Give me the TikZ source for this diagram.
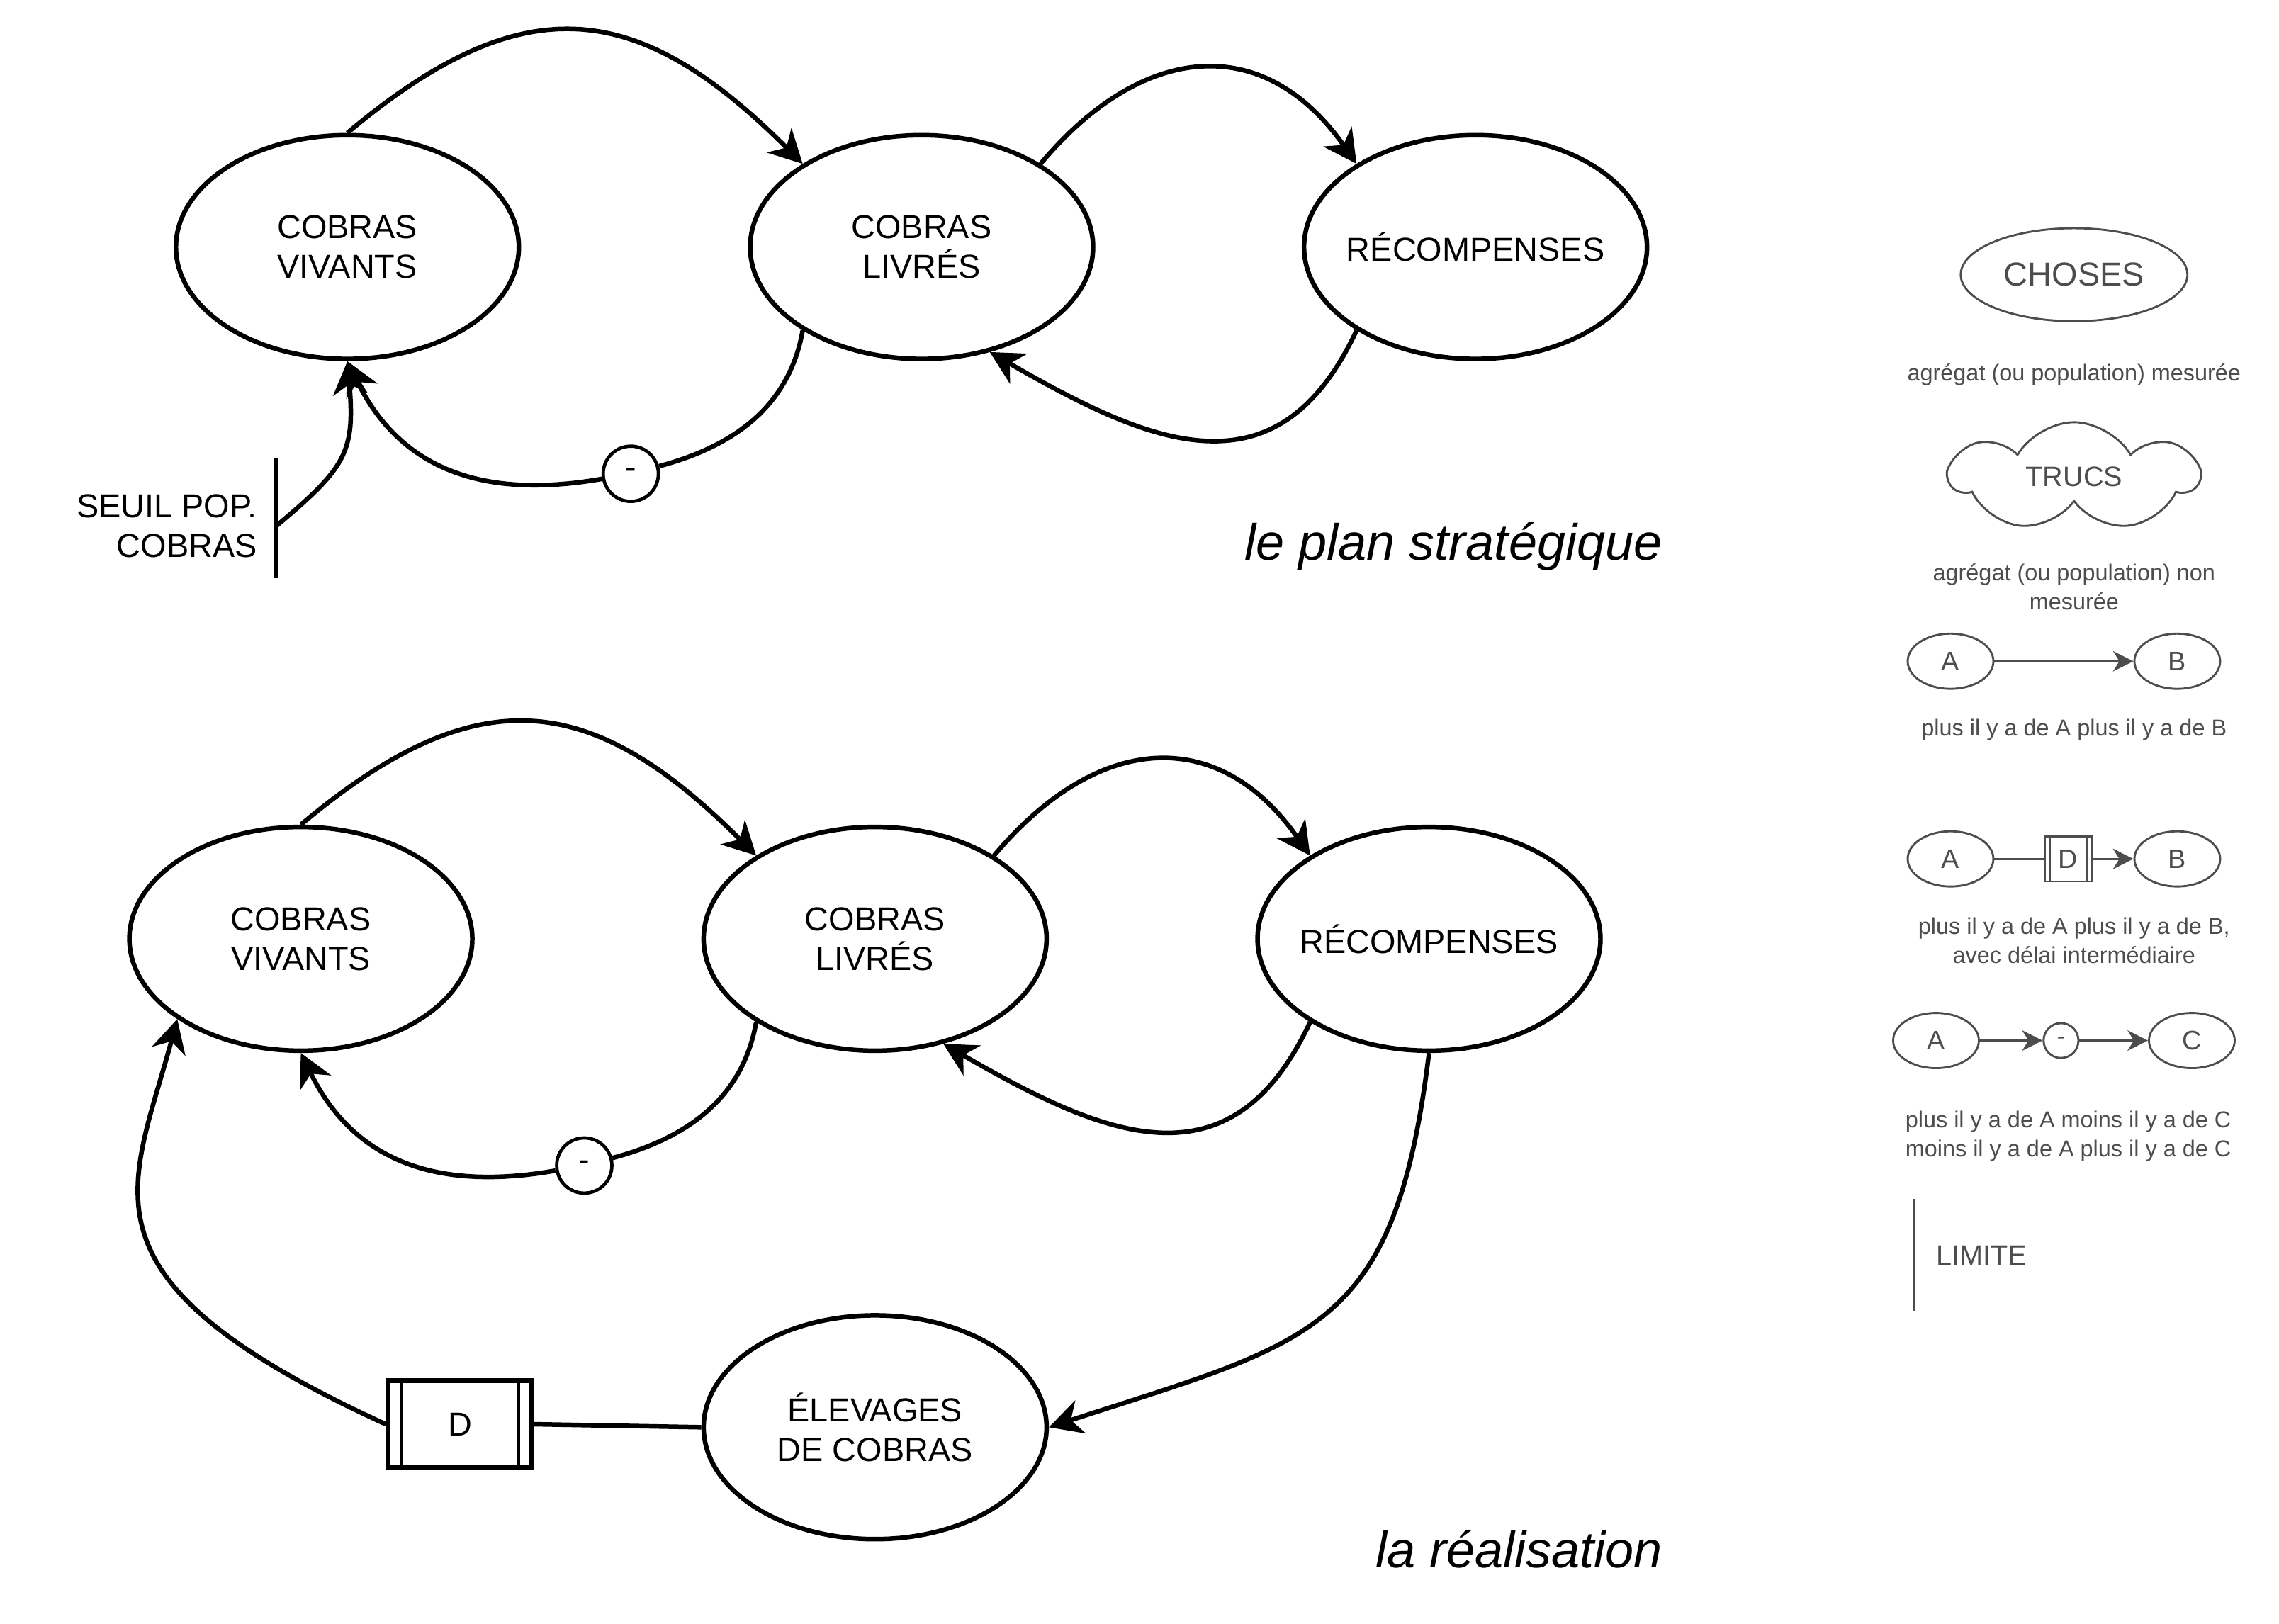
\documentclass[tikz,border=0pt]{standalone}
\usepackage{fontspec}
\setmainfont{Liberation Sans}
\usetikzlibrary{positioning, shapes.geometric, shapes.symbols, arrows.meta}
\definecolor{lggray}{HTML}{4D4D4D}
\tikzset{%
  stock/.style    = {draw, ellipse, line width=1.8pt, minimum width=4.72cm,
    minimum height=3.08cm, inner xsep=-0.25cm, inner ysep=0pt, align=center,
    font=\fontsize{13}{15.6}\selectfont},
  minus/.style    = {draw, circle, line width=1.3pt, minimum size=0.76cm,
    inner sep=0pt, font=\fontsize{13}{15.6}\selectfont},
  delaybox/.style = {draw, rectangle, line width=1.8pt, minimum width=1.98cm,
    minimum height=1.2cm, font=\fontsize{13}{15.6}\selectfont},
  lgstock/.style  = {draw=lggray, text=lggray, ellipse, line width=0.8pt,
    minimum width=1.18cm, minimum height=0.76cm, inner sep=0pt,
    font=\fontsize{10.5}{12.6}\selectfont},
  lgtext/.style   = {text=lggray, align=center, font=\fontsize{9}{11.4}\selectfont},
  title/.style    = {font=\fontsize{20}{24}\selectfont\itshape}
}
\tikzstyle{arrow} = [draw, line width=1.8pt, -{Stealth[length=13pt, width=13.5pt, inset=4pt]}]
\tikzstyle{line} = [draw, line width=1.8pt]
\tikzstyle{lgarrow} = [draw=lggray, line width=0.8pt, -{Stealth[length=8pt, width=8pt, inset=2.5pt]}]
\tikzstyle{lgline} = [draw=lggray, line width=0.8pt]

\begin{document}
\begin{tikzpicture}[x=0.02cm, y=0.02cm]
\useasboundingbox (0,0) rectangle (1568,-1117);

% le plan strategique
\node [stock] (viv1) at (239,-170) {COBRAS\\VIVANTS};
\node [stock, right=3.12cm of viv1] (liv1) {COBRAS\\LIVRÉS};
\node [stock, right=2.84cm of liv1] (rec1) {RÉCOMPENSES};
\node [minus] (neg1) at (434,-326) {-};

\coordinate (seuiltop) at (190,-315);
\coordinate (seuilbot) at (190,-398);
\coordinate (seuilmid) at (190,-362);
\node [anchor=east, align=right, font=\fontsize{13}{15.6}\selectfont] (seuil) at (183,-362) {SEUIL POP.\\COBRAS};

\draw [arrow] (viv1.north) to[out=40, in=135, looseness=1.3] (liv1.145);
\draw [arrow] (liv1.35) to[out=50, in=125, looseness=1.3] (rec1.145);
\draw [arrow] (rec1.215) to[out=-115, in=-30, looseness=1.3] (liv1.-57);
\draw [line] (liv1.215) to[out=-100, in=15] (neg1);
\draw [arrow] (neg1) to[out=190, in=-64, looseness=1.1] (viv1.south);
\draw [line] (seuiltop) -- (seuilbot);
\draw [arrow] (seuilmid) to[out=40, in=-85, looseness=1.3] (viv1.south);

\node [title] (plan) at (1000,-376) {le plan stratégique};

% la realisation
\node [stock] (viv2) at (207,-646) {COBRAS\\VIVANTS};
\node [stock, right=3.12cm of viv2] (liv2) {COBRAS\\LIVRÉS};
\node [stock, right=2.84cm of liv2] (rec2) {RÉCOMPENSES};
\node [stock, below=3.58cm of liv2] (elev) {ÉLEVAGES\\DE COBRAS};
\node [minus] (neg2) at (402,-802) {-};
\node [delaybox] (dbox) at (316.5,-980) {D};
\draw [line width=1.2pt] ([xshift=0.22cm]dbox.north west) -- ([xshift=0.22cm]dbox.south west);
\draw [line width=1.2pt] ([xshift=-0.22cm]dbox.north east) -- ([xshift=-0.22cm]dbox.south east);

\draw [arrow] (viv2.north) to[out=40, in=135, looseness=1.3] (liv2.145);
\draw [arrow] (liv2.35) to[out=50, in=125, looseness=1.3] (rec2.145);
\draw [arrow] (rec2.215) to[out=-115, in=-30, looseness=1.3] (liv2.-57);
\draw [line] (liv2.215) to[out=-100, in=15] (neg2);
\draw [arrow] (neg2) to[out=190, in=-64, looseness=1.1] (viv2.south);
\draw [arrow] (rec2.south) to[out=-97, in=18, looseness=1.35] (elev.east);
\draw [line] (elev.west) -- (dbox.east);
\draw [arrow] (dbox.west) .. controls (47,-880) and (90,-820) .. (viv2.213);

\node [title] (real) at (1045,-1066) {la réalisation};

% legende
\node [lgstock, minimum width=3.12cm, minimum height=1.28cm,
  font=\fontsize{13}{15.6}\selectfont] (choses) at (1427,-189) {CHOSES};
\node [lgtext] (chosestxt) at (1427,-258) {agrégat (ou population) mesurée};
\node [cloud, draw=lggray, text=lggray, line width=0.8pt, cloud puffs=7,
  cloud puff arc=120, cloud ignores aspect, minimum width=3.4cm, minimum height=1.5cm,
  inner sep=0pt, font=\fontsize{11}{13.2}\selectfont] (trucs) at (1427,-328) {TRUCS};
\node [lgtext] (trucstxt) at (1427,-404) {agrégat (ou population) non\\mesurée};

\node [lgstock] (a1) at (1342,-455) {A};
\node [lgstock] (b1) at (1498,-455) {B};
\draw [lgarrow] (a1) -- (b1);
\node [lgtext] (ab1txt) at (1427,-502) {plus il y a de A plus il y a de B};

\node [lgstock] (a2) at (1342,-591) {A};
\node [draw=lggray, text=lggray, rectangle, line width=0.8pt, minimum width=0.64cm,
  minimum height=0.62cm, inner sep=0pt, font=\fontsize{10.5}{12.6}\selectfont] (d2) at (1423,-591) {D};
\draw [lgline] ([xshift=0.075cm]d2.north west) -- ([xshift=0.075cm]d2.south west);
\draw [lgline] ([xshift=-0.075cm]d2.north east) -- ([xshift=-0.075cm]d2.south east);
\node [lgstock] (b2) at (1498,-591) {B};
\draw [lgline] (a2) -- (d2);
\draw [lgarrow] (d2) -- (b2);
\node [lgtext] (ab2txt) at (1427,-647) {plus il y a de A plus il y a de B,\\avec délai intermédiaire};

\node [lgstock] (a3) at (1332,-716) {A};
\node [draw=lggray, text=lggray, circle, line width=0.8pt, minimum size=0.48cm,
  inner sep=0pt, font=\fontsize{9}{10.8}\selectfont] (m3) at (1418,-716) {-};
\node [lgstock] (c3) at (1508,-716) {C};
\draw [lgarrow] (a3) -- (m3);
\draw [lgarrow] (m3) -- (c3);
\node [lgtext] (ac3txt) at (1423,-782) {plus il y a de A moins il y a de C\\moins il y a de A plus il y a de C};

\coordinate (limtop) at (1317,-825);
\coordinate (limbot) at (1317,-902);
\draw [lgline] (limtop) -- (limbot);
\node [anchor=west, text=lggray, font=\fontsize{11}{13.2}\selectfont] (limtxt) at (1326,-864) {LIMITE};

\end{tikzpicture}
\end{document}
